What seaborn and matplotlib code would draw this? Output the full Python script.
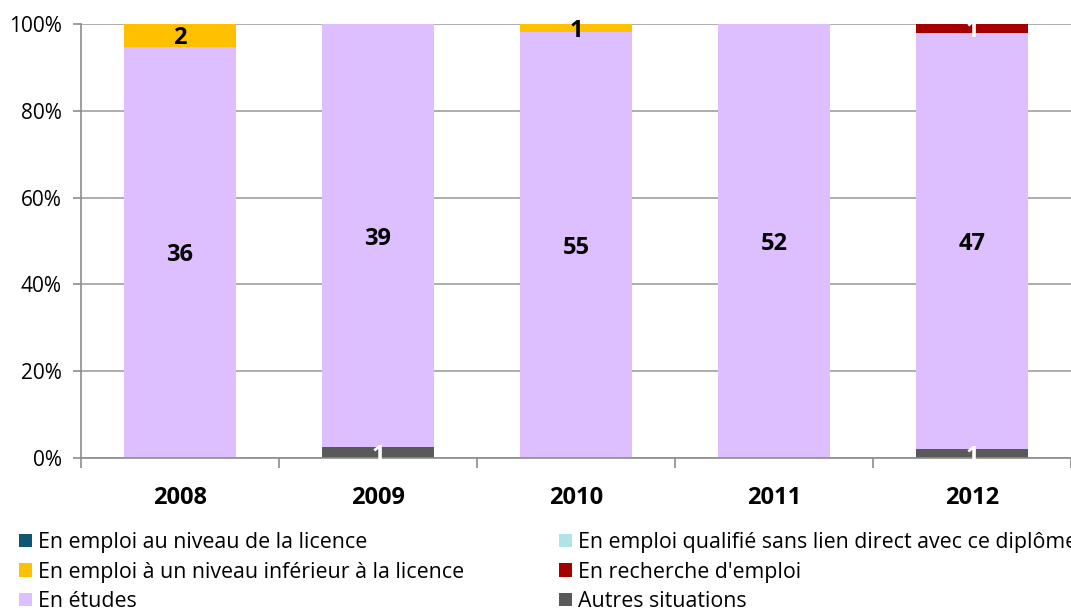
import matplotlib
matplotlib.use("Agg")
import matplotlib.pyplot as plt
from matplotlib.patches import Patch
import seaborn as sns
import pandas as pd
import numpy as np

years = ["2008", "2009", "2010", "2011", "2012"]
series_names = [
    "En emploi au niveau de la licence",
    "En emploi qualifié sans lien direct avec ce diplôme",
    "En emploi à un niveau inférieur à la licence",
    "En recherche d'emploi",
    "En études",
    "Autres situations",
]
emploi_licence = [0, 0, 0, 0, 0]
emploi_qualifie = [0, 0, 0, 0, 0]
emploi_inferieur = [2, 0, 1, 0, 0]
recherche = [0, 0, 0, 0, 1]
etudes = [36, 39, 55, 52, 47]
autres = [0, 1, 0, 0, 1]
colors = ["#0E5671", "#B0E3E6", "#FFC000", "#A50000", "#DDBEFE", "#595959"]
label_colors = ["white", "black", "black", "white", "black", "white"]

sns.set_theme(style="white")
plt.rcParams["font.family"] = ["Open Sans", "DejaVu Sans"]
plt.rcParams["text.color"] = "black"
plt.rcParams["legend.labelcolor"] = "black"

values = [emploi_licence, emploi_qualifie, emploi_inferieur, recherche, etudes, autres]
df = pd.DataFrame({n: v for n, v in zip(series_names, values)}, index=years)
totals = df.sum(axis=1)
pct = df.div(totals, axis=0)

fig = plt.figure(figsize=(10.71, 6.10), dpi=100)
ax = fig.add_axes([81 / 1071, 1 - 458 / 610, 1 - 81 / 1071, (458 - 24) / 610])

# stack bottom-up: autres, études, recherche, inférieur, qualifié, licence
stack_order = [5, 4, 3, 2, 1, 0]
bottom = np.zeros(len(years))
for i in stack_order:
    name = series_names[i]
    sub = pd.DataFrame({"year": years, "pct": pct[name].values})
    sns.barplot(data=sub, x="year", y="pct", order=years, color=colors[i],
                width=0.566, bottom=bottom.copy(), ax=ax, saturation=1,
                edgecolor="none", linewidth=0, zorder=2)
    for j, y in enumerate(years):
        c = df.loc[y, name]
        if c > 0:
            ax.text(j, bottom[j] + pct.loc[y, name] / 2, f"{c}", ha="center",
                    va="center_baseline", fontsize=17, fontweight="bold",
                    color=label_colors[i], zorder=4)
    bottom = bottom + pct[name].values

ax.set_xlim(-0.5, 4.5)
ax.set_ylim(0, 1)
ax.set_yticks(np.arange(0, 1.01, 0.2))
ax.set_yticklabels([f"{int(round(t * 100))}%" for t in np.arange(0, 1.01, 0.2)])
ax.yaxis.grid(True, color="#A0A0A0", linewidth=1.2, zorder=0)
ax.set_axisbelow(True)
ax.set_xlabel("")
ax.set_ylabel("")
for s in ["top", "right"]:
    ax.spines[s].set_visible(False)
for s in ["left", "bottom"]:
    ax.spines[s].set_color("#8C8C8C")
    ax.spines[s].set_linewidth(1.2)
ax.tick_params(axis="y", which="major", length=6, color="#8C8C8C", width=1.2,
               labelsize=15, pad=8, left=True, labelcolor="black")
ax.set_xticks(range(len(years)))
ax.set_xticklabels(years, fontweight="bold", fontsize=17)
ax.tick_params(axis="x", which="major", length=0, pad=20, labelcolor="black")
ax.set_xticks(np.arange(-0.5, 4.6, 1.0), minor=True)
ax.tick_params(axis="x", which="minor", length=7, color="#8C8C8C", width=1.2, bottom=True)

handles = [Patch(facecolor=c, edgecolor="none") for c in colors]
leg_kw = dict(frameon=False, fontsize=15.4, handlelength=0.6, handleheight=0.6,
              handletextpad=0.3, labelspacing=0.40, borderpad=0, borderaxespad=0,
              loc="upper left", labelcolor="black")
fig.legend([handles[0], handles[2], handles[4]],
           [series_names[0], series_names[2], series_names[4]],
           bbox_to_anchor=(19 / 1071, 1 - 532 / 610), **leg_kw)
fig.legend([handles[1], handles[3], handles[5]],
           [series_names[1], series_names[3], series_names[5]],
           bbox_to_anchor=(559 / 1071, 1 - 532 / 610), **leg_kw)

fig.savefig("out.png", dpi=100)
